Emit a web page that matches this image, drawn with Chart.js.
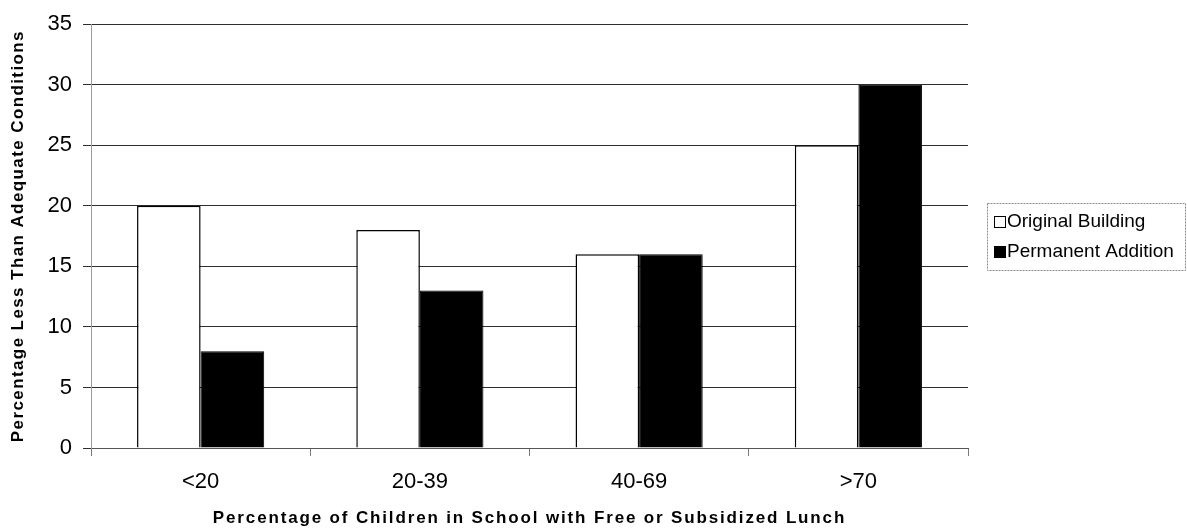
<!DOCTYPE html>
<html>
<head>
<meta charset="utf-8">
<script src="https://cdn.jsdelivr.net/npm/chart.js@4.4.1/dist/chart.umd.min.js"></script>
<style>
  html, body { margin: 0; padding: 0; background: #ffffff; }
  #wrap { width: 1187px; height: 529px; }
</style>
</head>
<body>
<div id="wrap"><canvas id="chart" width="1187" height="529"></canvas></div>
<script>
// Lunch-eligibility bands and the share of schools with less-than-adequate conditions
const categories = ['<20', '20-39', '40-69', '>70'];
const originalBuilding = [20, 18, 16, 25];
const permanentAddition = [8, 13, 16, 30];
const yTicks = [0, 5, 10, 15, 20, 25, 30, 35];
const xTitle = 'Percentage of Children in School with Free or Subsidized Lunch';
const yTitle = 'Percentage Less Than Adequate Conditions';

const FONT = '"Liberation Sans", Arial, Helvetica, sans-serif';

// Boxed legend at the right, built from the dataset labels and colours
const boxedLegend = {
  id: 'boxedLegend',
  afterDraw(chart) {
    const ctx = chart.ctx;
    const x0 = 987, y0 = 203, w = 198, h = 67;
    ctx.save();
    ctx.strokeStyle = '#8a8a8a';
    ctx.lineWidth = 1;
    ctx.setLineDash([2, 1]);
    ctx.strokeRect(x0 + 0.5, y0 + 0.5, w, h);
    ctx.setLineDash([]);
    ctx.font = '19px ' + FONT;
    ctx.textBaseline = 'middle';
    chart.data.datasets.forEach((ds, i) => {
      const cy = y0 + 19 + i * 30;
      ctx.fillStyle = ds.backgroundColor;
      ctx.fillRect(x0 + 7.5, cy - 5.5, 11, 11);
      ctx.strokeStyle = '#000';
      ctx.lineWidth = 1;
      ctx.strokeRect(x0 + 7.5, cy - 5.5, 11, 11);
      ctx.fillStyle = '#000';
      ctx.fillText(ds.label, x0 + 20, cy);
    });
    ctx.restore();
  }
};

// Letter-spaced bold axis titles, placed against the chart area
const axisTitles = {
  id: 'axisTitles',
  afterDraw(chart) {
    const ctx = chart.ctx;
    const area = chart.chartArea;
    ctx.save();
    ctx.fillStyle = '#000';
    ctx.font = 'bold 17px ' + FONT;
    ctx.textAlign = 'center';
    ctx.textBaseline = 'middle';
    ctx.letterSpacing = '1.85px';
    ctx.fillText(xTitle, (area.left + area.right) / 2, 518);
    ctx.letterSpacing = '1.4px';
    ctx.translate(18, (area.top + area.bottom) / 2);
    ctx.rotate(-Math.PI / 2);
    ctx.fillText(yTitle, 0, 0);
    ctx.restore();
  }
};

new Chart(document.getElementById('chart'), {
  type: 'bar',
  data: {
    labels: categories,
    datasets: [
      {
        label: 'Original Building',
        data: originalBuilding,
        backgroundColor: '#ffffff',
        borderColor: '#000000',
        borderWidth: 1.5
      },
      {
        label: 'Permanent Addition',
        data: permanentAddition,
        backgroundColor: '#000000',
        borderColor: '#000000',
        borderWidth: 1
      }
    ]
  },
  options: {
    responsive: false,
    animation: false,
    devicePixelRatio: 1,
    layout: { padding: { top: 23, right: 219, bottom: 0, left: 0 } },
    datasets: { bar: { categoryPercentage: 0.58, barPercentage: 1.0 } },
    plugins: {
      legend: { display: false },
      tooltip: { enabled: false }
    },
    scales: {
      x: {
        grid: {
          offset: true,
          drawOnChartArea: false,
          drawTicks: true,
          tickLength: 8,
          color: '#7a7a7a'
        },
        border: { display: true, color: '#555555', width: 1 },
        ticks: {
          color: '#000',
          font: { family: FONT, size: 22 },
          padding: 13,
          maxRotation: 0
        },
        title: { display: false },
        afterFit(scale) { scale.height = 81; }
      },
      y: {
        min: 0,
        max: 35,
        afterBuildTicks(scale) { scale.ticks = yTicks.map(v => ({ value: v })); },
        grid: {
          color: '#2e2e2e',
          lineWidth: 1,
          drawTicks: true,
          tickLength: 8
        },
        border: { display: true, color: '#9a9a9a', width: 1 },
        ticks: {
          color: '#000',
          font: { family: FONT, size: 22 },
          padding: 11
        },
        title: { display: false },
        afterFit(scale) { scale.width = 91; }
      }
    }
  },
  plugins: [boxedLegend, axisTitles]
});
</script>
</body>
</html>
